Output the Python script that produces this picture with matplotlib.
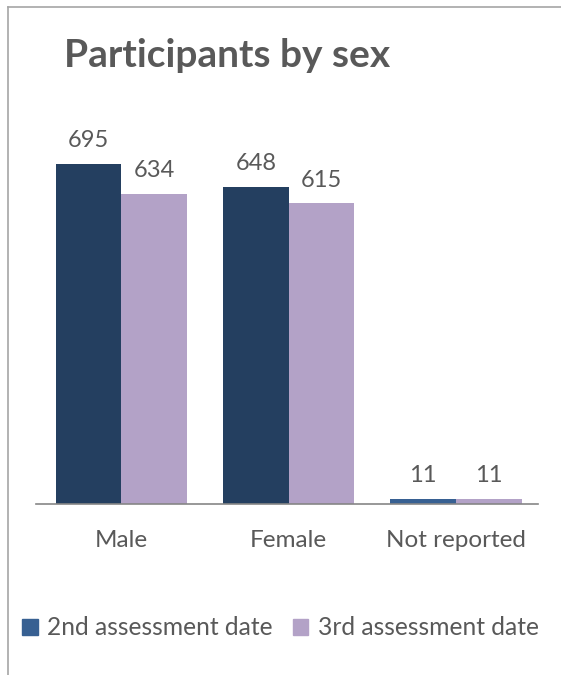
import matplotlib
matplotlib.use("Agg")
import matplotlib.pyplot as plt
import numpy as np
from matplotlib.lines import Line2D
from matplotlib.patches import Patch

# Participants by sex, counts at two assessment dates
categories = ["Male", "Female", "Not reported"]
second_date = [695, 648, 11]
third_date = [634, 615, 11]
series_names = ["2nd assessment date", "3rd assessment date"]

DARK = "#243F60"
BLUE = "#376092"
LAVENDER = "#B3A2C7"
TEXT = "#595959"

plt.rcParams["font.family"] = ["Lato", "DejaVu Sans"]

fig = plt.figure(figsize=(5.61, 6.75), dpi=100)
ax = fig.add_axes([0.0642, 0.2533, 0.8948, 0.58])

x = np.arange(len(categories))
w = 0.392
bars2 = ax.bar(x - w / 2, second_date, w, color=[DARK, DARK, BLUE], linewidth=0)
bars3 = ax.bar(x + w / 2, third_date, w, color=LAVENDER, linewidth=0)

for bars in (bars2, bars3):
    for b in bars:
        ax.annotate(f"{int(b.get_height())}",
                    (b.get_x() + b.get_width() / 2, b.get_height()),
                    xytext=(0, 9), textcoords="offset points",
                    ha="center", va="bottom", fontsize=17, color=TEXT)

ax.set_xlim(-0.51, 2.49)
ax.set_ylim(0, 800)
ax.set_xticks(x)
ax.set_xticklabels(categories, fontsize=17.5, color=TEXT)
ax.tick_params(axis="x", length=0, pad=19)
ax.set_yticks([])
for s in ("top", "right", "left"):
    ax.spines[s].set_visible(False)
ax.spines["bottom"].set_color("#868686")
ax.spines["bottom"].set_linewidth(1.2)

fig.text(0.114, 0.918, "Participants by sex", fontsize=28, fontweight="bold",
         color=TEXT, ha="left", va="center")

handles = [Patch(color=BLUE), Patch(color=LAVENDER)]
fig.legend(handles, series_names, loc="center", bbox_to_anchor=(0.5, 0.07),
           ncol=2, frameon=False, fontsize=17.7, labelcolor=TEXT,
           handlelength=0.62, handleheight=0.62, handletextpad=0.4,
           columnspacing=0.8)

# chart frame (top and left edges)
fig.add_artist(Line2D([0.0143, 1.0], [0.9896, 0.9896], color="#A6A6A6", lw=1.2))
fig.add_artist(Line2D([0.0143, 0.0143], [0.0, 0.9896], color="#A6A6A6", lw=1.2))

fig.savefig("out.png", dpi=100)
